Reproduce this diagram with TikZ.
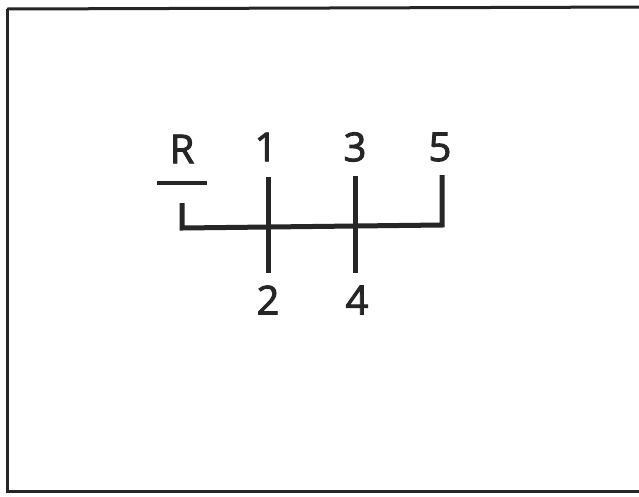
\documentclass[tikz,border=0pt]{standalone}
\usepackage{fontspec}
\setmainfont{Open Sans}
\newfontfamily\lblfont{Open Sans}[FakeBold=2.2]
\begin{document}
\begin{tikzpicture}[x=1pt,y=-1pt,
  gate/.style={line width=5pt,color=black!85,line cap=butt},
  frame/.style={line width=3pt,color=black!85},
  lbl/.style={font=\lblfont\fontsize{40}{42}\selectfont,text=black!85,inner sep=0pt,anchor=center}]
\useasboundingbox (0,0) rectangle (639,496);
\fill[white] (0,0) rectangle (639,496);
\draw[frame] (7,9) -- (7,491) -- (650,491);
\draw[frame] (7,9) -- (650,7);
% labels
\node[lbl] (R) at (182,149) {R};
\node[lbl] (g1) at (266,147) {1};
\node[lbl] (g3) at (355,147) {3};
\node[lbl] (g5) at (440,147) {5};
\node[lbl] (g2) at (268,300) {2};
\node[lbl] (g4) at (357,300) {4};
% gate coordinates
\coordinate (rt) at (182,203);
\coordinate (rb) at (182,228);
\coordinate (t1) at (268,177);
\coordinate (b1) at (268,273);
\coordinate (t3) at (355,176);
\coordinate (b3) at (355,273);
\coordinate (t5) at (442,175);
\coordinate (b5) at (442,225);
\coordinate (bl) at (157,183);
\coordinate (br) at (207,183);
\draw[line width=4pt,color=black!85] (bl) -- (br);
\draw[gate,line join=miter] (rt) -- (rb) -- (b5) -- (t5);
\draw[gate] (t1) -- (b1);
\draw[gate] (t3) -- (b3);
\end{tikzpicture}
\end{document}
